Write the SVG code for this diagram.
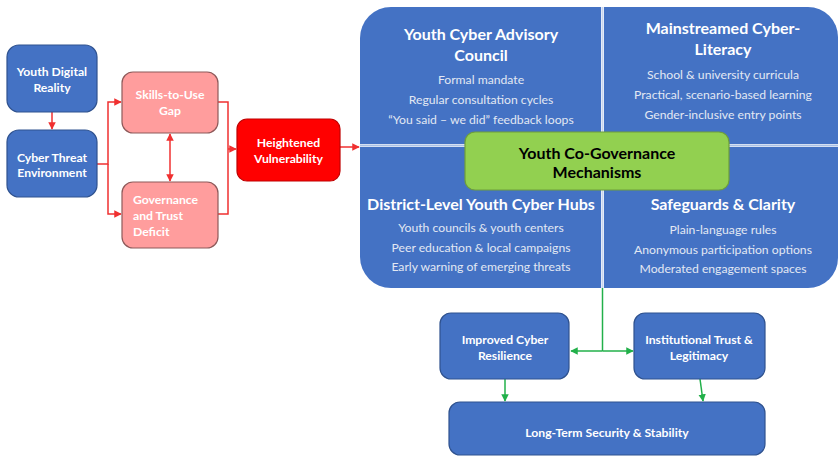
<svg xmlns="http://www.w3.org/2000/svg" width="840" height="457" viewBox="0 0 840 457">
  <defs>
    <style>
      .blue { fill: #4472C4; stroke: #2F528F; stroke-width: 1.2; }
      .pink { fill: #FF9D9D; stroke: #8E5A5A; stroke-width: 1.2; }
      .red { fill: #FF0000; stroke: #C00000; stroke-width: 1.2; }
      .green { fill: #92D050; stroke: #6E9E3A; stroke-width: 1.2; }
      .quad { fill: #4472C4; }
      text { font-family: Lato, "Liberation Sans", sans-serif; text-anchor: middle; dominant-baseline: central; }
      .lbl { fill: #FFFFFF; font-weight: 700; font-size: 12.2px; }
      .lblk { fill: #000000; font-weight: 700; font-size: 16px; }
      .title { fill: #FFFFFF; font-weight: 700; font-size: 16px; }
      .item { fill: #E2E8F3; font-size: 12.2px; }
      .rline { fill: none; stroke: #F03030; stroke-width: 1.5; }
      .gline { fill: none; stroke: #22B04A; stroke-width: 1.5; }
    </style>
    <marker id="ar" viewBox="0 0 10 10" refX="9" refY="5" markerWidth="5" markerHeight="5" orient="auto-start-reverse">
      <path d="M0,0 L10,5 L0,10 z" fill="#F03030"/>
    </marker>
    <marker id="ag" viewBox="0 0 10 10" refX="9" refY="5" markerWidth="5" markerHeight="5" orient="auto-start-reverse">
      <path d="M0,0 L10,5 L0,10 z" fill="#22B04A"/>
    </marker>
  </defs>

  <rect width="840" height="457" fill="#FFFFFF"/>

  <!-- quadrant panel -->
  <g id="panel">
    <path class="quad" d="M360,38 A31,31 0 0 1 391,7 L601,7 L601,144 L360,144 Z"/>
    <path class="quad" d="M604,7 L808,7 A30,30 0 0 1 838,37 L838,144 L604,144 Z"/>
    <path class="quad" d="M360,147 L601,147 L601,288 L391,288 A31,31 0 0 1 360,257 Z"/>
    <path class="quad" d="M604,147 L838,147 L838,258 A30,30 0 0 1 808,288 L604,288 Z"/>
    <line x1="360" y1="145.5" x2="838" y2="145.5" stroke="#A9C0E6" stroke-width="2"/>
    <line x1="602.5" y1="7" x2="602.5" y2="288" stroke="#C8D6EF" stroke-width="2"/>
  </g>

  <g id="advisory-council">
    <text class="title" x="481" y="33">Youth Cyber Advisory</text>
    <text class="title" x="481" y="54">Council</text>
    <text class="item" x="481" y="79">Formal mandate</text>
    <text class="item" x="481" y="99">Regular consultation cycles</text>
    <text class="item" x="481" y="119">“You said – we did” feedback loops</text>
  </g>

  <g id="cyber-literacy">
    <text class="title" x="723" y="27">Mainstreamed Cyber-</text>
    <text class="title" x="723" y="48">Literacy</text>
    <text class="item" x="723" y="74">School &amp; university curricula</text>
    <text class="item" x="723" y="94">Practical, scenario-based learning</text>
    <text class="item" x="723" y="114">Gender-inclusive entry points</text>
  </g>

  <g id="cyber-hubs">
    <text class="title" x="481" y="203">District-Level Youth Cyber Hubs</text>
    <text class="item" x="481" y="227">Youth councils &amp; youth centers</text>
    <text class="item" x="481" y="247">Peer education &amp; local campaigns</text>
    <text class="item" x="481" y="266">Early warning of emerging threats</text>
  </g>

  <g id="safeguards">
    <text class="title" x="723" y="203">Safeguards &amp; Clarity</text>
    <text class="item" x="723" y="229">Plain-language rules</text>
    <text class="item" x="723" y="249">Anonymous participation options</text>
    <text class="item" x="723" y="268">Moderated engagement spaces</text>
  </g>

  <g id="co-governance">
    <rect class="green" x="465" y="132" width="264" height="58" rx="10"/>
    <text class="lblk" x="597" y="152">Youth Co-Governance</text>
    <text class="lblk" x="597" y="171">Mechanisms</text>
  </g>

  <!-- connectors -->
  <g id="connectors">
    <line class="rline" x1="52" y1="112" x2="52" y2="129" marker-end="url(#ar)"/>
    <polyline class="rline" points="97,164 108,164 108,102 121,102" marker-end="url(#ar)"/>
    <polyline class="rline" points="108,164 108,214 121,214" marker-end="url(#ar)"/>
    <line class="rline" x1="170" y1="134" x2="170" y2="181" marker-start="url(#ar)" marker-end="url(#ar)"/>
    <polyline class="rline" points="218,102 228,102 228,214 218,214"/>
    <line class="rline" x1="228" y1="149" x2="236" y2="149" marker-end="url(#ar)"/>
    <line class="rline" x1="340" y1="147" x2="359" y2="147" marker-end="url(#ar)"/>
    <line class="gline" x1="602.5" y1="288" x2="602.5" y2="351"/>
    <line class="gline" x1="602.5" y1="351" x2="571" y2="351" marker-end="url(#ag)"/>
    <line class="gline" x1="602.5" y1="351" x2="633" y2="351" marker-end="url(#ag)"/>
    <line class="gline" x1="505" y1="379" x2="505" y2="401" marker-end="url(#ag)"/>
    <line class="gline" x1="700" y1="379" x2="703" y2="401" marker-end="url(#ag)"/>
  </g>

  <g id="youth-digital-reality">
    <rect class="blue" x="7" y="45" width="90" height="67" rx="12"/>
    <text class="lbl" x="52" y="71">Youth Digital</text>
    <text class="lbl" x="52" y="87">Reality</text>
  </g>

  <g id="cyber-threat-environment">
    <rect class="blue" x="7" y="130" width="90" height="67" rx="12"/>
    <text class="lbl" x="52" y="157">Cyber Threat</text>
    <text class="lbl" x="52" y="172">Environment</text>
  </g>

  <g id="skills-gap">
    <rect class="pink" x="122" y="72" width="96" height="61" rx="11"/>
    <text class="lbl" x="170" y="94">Skills-to-Use</text>
    <text class="lbl" x="170" y="110">Gap</text>
  </g>

  <g id="trust-deficit">
    <rect class="pink" x="122" y="182" width="96" height="66" rx="11"/>
    <text class="lbl" x="133" y="199" style="text-anchor:start">Governance</text>
    <text class="lbl" x="133" y="215" style="text-anchor:start">and Trust</text>
    <text class="lbl" x="133" y="231" style="text-anchor:start">Deficit</text>
  </g>

  <g id="heightened-vulnerability">
    <rect class="red" x="237" y="119" width="103" height="62" rx="10"/>
    <text class="lbl" x="288.5" y="142">Heightened</text>
    <text class="lbl" x="288.5" y="158">Vulnerability</text>
  </g>

  <g id="cyber-resilience">
    <rect class="blue" x="440" y="313" width="129" height="66" rx="11"/>
    <text class="lbl" x="505" y="339">Improved Cyber</text>
    <text class="lbl" x="505" y="355">Resilience</text>
  </g>

  <g id="institutional-trust">
    <rect class="blue" x="634" y="313" width="131" height="66" rx="11"/>
    <text class="lbl" x="699" y="339">Institutional Trust &amp;</text>
    <text class="lbl" x="699" y="355">Legitimacy</text>
  </g>

  <g id="long-term-security">
    <rect class="blue" x="449" y="402" width="316" height="53" rx="11"/>
    <text class="lbl" x="607" y="432">Long-Term Security &amp; Stability</text>
  </g>
</svg>
